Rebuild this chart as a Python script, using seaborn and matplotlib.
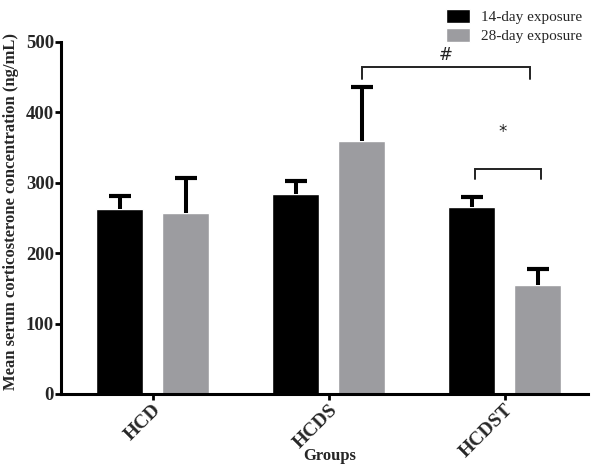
import matplotlib
matplotlib.use("Agg")
import matplotlib.pyplot as plt
import seaborn as sns
import pandas as pd
import numpy as np

groups = ["HCD", "HCDS", "HCDST"]
series = ["14-day exposure", "28-day exposure"]
mean_14 = [263, 284, 265]
mean_28 = [257, 360, 155]
err_14 = [18, 18, 15]
err_28 = [50, 76, 23]
colors = ["#000000", "#9c9ca0"]
y_ticks = [0, 100, 200, 300, 400, 500]

# significance annotations: (x_left, x_right, top, end, label, label_x, label_y)
brackets = [
    (1.19, 2.145, 464, 448, "#", 1.667, 481),
    (1.83, 2.207, 320, 306, "*", 1.99, 372),
]

sns.set_theme(style="white")
plt.rcParams["font.family"] = ["Liberation Serif", "DejaVu Serif"]

df = pd.DataFrame({
    "group": groups * 2,
    "series": [series[0]] * 3 + [series[1]] * 3,
    "value": mean_14 + mean_28,
})

fig = plt.figure(figsize=(6.0, 4.69), dpi=100)
ax = fig.add_axes([61 / 600, 1 - 394 / 469, 527 / 600, 352 / 469])

sns.barplot(data=df, x="group", y="value", hue="series", order=groups,
            hue_order=series, palette=colors, width=0.75, gap=0.28,
            errorbar=None, ax=ax, legend=True, saturation=1)

# error bars (upper only)
for cont, means, errs in zip(ax.containers, [mean_14, mean_28], [err_14, err_28]):
    xs = [p.get_x() + p.get_width() / 2 for p in cont.patches]
    eb = ax.errorbar(xs, means, yerr=[np.zeros(len(errs)), errs], fmt="none",
                     ecolor="black", elinewidth=2.9, capsize=8, capthick=3,
                     zorder=1)
    for cl in eb[1]:
        if np.allclose(cl.get_ydata(), means):
            cl.set_visible(False)

for xl, xr, top, end, lab, lx, ly in brackets:
    ax.plot([xl, xl, xr, xr], [end, top, top, end], color="#222222", lw=1.4,
            solid_joinstyle="miter", clip_on=False)
    ax.text(lx, ly, lab, ha="center", va="center", fontsize=12,
            family=["DejaVu Sans"], color="#222222")

ax.set_ylim(0, 500)
ax.set_xlim(-0.52, 2.474)
ax.set_yticks(y_ticks)
ax.set_yticklabels([str(t) for t in y_ticks], fontsize=13.5, fontweight="bold")
ax.set_xticks(range(len(groups)))
ax.set_xticklabels(groups, fontsize=14, fontweight="bold", rotation=45,
                   ha="right", va="top", rotation_mode="anchor")
for s in ["top", "right"]:
    ax.spines[s].set_visible(False)
for s in ["left", "bottom"]:
    ax.spines[s].set_linewidth(2.2)
    ax.spines[s].set_color("black")
ax.tick_params(axis="both", which="major", direction="out", length=4,
               width=2, color="black", bottom=True, left=True, pad=1)
ax.set_ylabel("Mean serum corticosterone concentration (ng/mL)",
              fontsize=12, fontweight="bold", va="center")
ax.yaxis.set_label_coords(-0.094, 0.518)
ax.set_xlabel("Groups", fontsize=12, fontweight="bold", va="center")
ax.xaxis.set_label_coords(0.509, -0.176)

handles, labels = ax.get_legend_handles_labels()
ax.get_legend().remove()
fig.legend(handles, labels, loc="upper right", bbox_to_anchor=(0.985, 1.0),
           frameon=False, fontsize=11, handlelength=1.6, handleheight=1.0,
           handletextpad=0.7, labelspacing=0.25, borderaxespad=0.2)

fig.savefig("out.png", dpi=100)
